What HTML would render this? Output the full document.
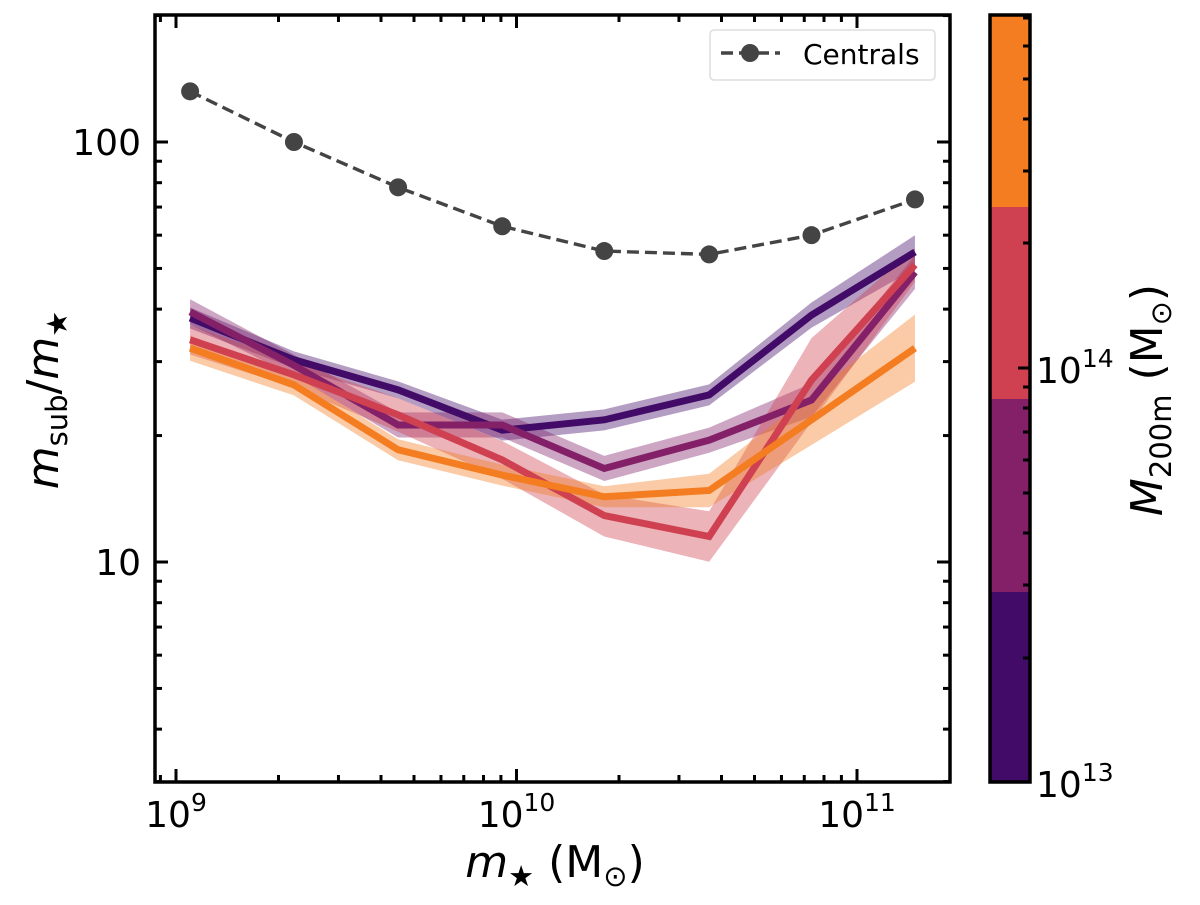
<!DOCTYPE html>
<html><head><meta charset="utf-8"><style>
body{margin:0;background:#fff}
svg{font-family:"DejaVu Sans","Liberation Sans",sans-serif}
</style></head><body>
<svg id="c" width="1200" height="900" xmlns="http://www.w3.org/2000/svg"></svg>
<script>
const xVals=[1.1e9,2.22e9,4.49e9,9.08e9,1.81e10,3.68e10,7.35e10,1.48e11];
const centrals=[132,100,78,63,55,54,60,73];
const s1=[38.1,30.3,25.7,20.6,21.8,25,38.7,54.7];
const s2=[39.4,29.4,21.2,21.2,16.7,19.5,24.3,49];
const s3=[33.8,27.9,22.4,17.5,12.9,11.5,27.1,51];
const s4=[32.3,26.4,18.5,16.1,14.3,14.8,21.8,32.3];
const e1=[0.025,0.02,0.02,0.025,0.025,0.025,0.03,0.04];
const e2=[0.03,0.025,0.03,0.03,0.03,0.03,0.04,0.04];
const e3=[0.035,0.03,0.04,0.045,0.05,0.06,0.1,0.04];
const e4=[0.03,0.025,0.025,0.025,0.025,0.04,0.06,0.08];
const seriesColors=["#430b68","#832068","#cf4150","#f37d20"];
const xTicks=[9,10,11];
const yTicks=[1,2];

const svg=document.getElementById('c');
const NS="http://www.w3.org/2000/svg";
function mk(t,a,p){const e=document.createElementNS(NS,t);for(const k in a)e.setAttribute(k,a[k]);(p||svg).appendChild(e);return e;}
const L=155,R=950,T=15,B=782;
const X=v=>176+(Math.log10(v)-9)*340.5;
const Y=v=>562-(Math.log10(v)-1)*420;

const all=[[s1,e1],[s2,e2],[s3,e3],[s4,e4]];
all.forEach(([s,e],i)=>{
  let up=s.map((v,j)=>X(xVals[j])+','+Y(v*Math.pow(10,e[j])));
  let lo=s.map((v,j)=>X(xVals[j])+','+Y(v/Math.pow(10,e[j]))).reverse();
  const b=mk('polygon',{points:up.concat(lo).join(' '),fill:seriesColors[i],'fill-opacity':0.4,stroke:'none'});
  
  
});
all.forEach(([s],i)=>{
  const l=mk('polyline',{points:s.map((v,j)=>X(xVals[j])+','+Y(v)).join(' '),fill:'none',stroke:seriesColors[i],'stroke-width':7,'stroke-linejoin':'miter'});
  
  
});
const cl=mk('polyline',{points:centrals.map((v,j)=>X(xVals[j])+','+Y(v)).join(' '),fill:'none',stroke:'#444','stroke-width':3.4,'stroke-dasharray':'12,6'});


centrals.forEach((v,j)=>{
  const c=mk('circle',{cx:X(xVals[j]),cy:Y(v),r:9,fill:'#444'});
  
  
});
const fr=mk('rect',{x:L,y:T,width:R-L,height:B-T,fill:'none',stroke:'#000','stroke-width':3.5});


for(let d=8;d<=11;d++)for(let m=1;m<10;m++){
  const v=m*Math.pow(10,d);const x=X(v);if(x<L||x>R)continue;
  const len=m==1?13:7;
  mk('line',{x1:x,x2:x,y1:B,y2:B-len,stroke:'#000','stroke-width':3});
  mk('line',{x1:x,x2:x,y1:T,y2:T+len,stroke:'#000','stroke-width':3});
}
xTicks.forEach(d=>{
  const t=mk('text',{x:X(Math.pow(10,d)),y:B+45,'font-size':36,'text-anchor':'middle'});
  t.innerHTML='10<tspan dy="-16" font-size="25">'+d+'</tspan>';
  
  
});
for(let d=0;d<=2;d++)for(let m=1;m<10;m++){
  const v=m*Math.pow(10,d);const y=Y(v);if(y<T||y>B)continue;
  const len=m==1?13:7;
  mk('line',{x1:L,x2:L+len,y1:y,y2:y,stroke:'#000','stroke-width':3});
  mk('line',{x1:R,x2:R-len,y1:y,y2:y,stroke:'#000','stroke-width':3});
}
yTicks.forEach(d=>{
  const t=mk('text',{x:L-14,y:Y(Math.pow(10,d))+13,'font-size':36,'text-anchor':'end'});
  t.textContent=String(Math.pow(10,d));
  
  
});
</script>
<svg width="1200" height="900" style="position:absolute;left:0;top:0" xmlns="http://www.w3.org/2000/svg">
<text x="555" y="877" font-size="44" text-anchor="middle"><tspan font-style="italic">m</tspan><tspan font-size="29" dy="9">★</tspan><tspan dy="-9"> (M</tspan><tspan font-size="29" dy="9">⊙</tspan><tspan dy="-9">)</tspan></text>
<text transform="translate(58,400) rotate(-90)" font-size="44" text-anchor="middle"><tspan font-style="italic">m</tspan><tspan font-size="29" dy="9">sub</tspan><tspan dy="-9">/</tspan><tspan font-style="italic">m</tspan><tspan font-size="29" dy="9">★</tspan></text>
<g>
<rect x="710" y="30" width="225" height="50" rx="4" fill="#fff" stroke="#ddd" stroke-width="1.5"/>
<line x1="721" y1="53" x2="780" y2="53" stroke="#444" stroke-width="3.4" stroke-dasharray="12,6"/>
<circle cx="750" cy="53" r="9" fill="#444"/>
<text x="803" y="64" font-size="28">Centrals</text>
</g>
<g>
<rect x="990" y="592" width="40" height="190" fill="#430b68"/>
<rect x="990" y="399" width="40" height="193" fill="#832068"/>
<rect x="990" y="207" width="40" height="192" fill="#cf4150"/>
<rect x="990" y="15" width="40" height="192" fill="#f37d20"/>
<rect x="990" y="15" width="40" height="767" fill="none" stroke="#000" stroke-width="3.5"/>
<g stroke="#000" stroke-width="3">
<line x1="1030" x2="1018" y1="368" y2="368"/>
<line x1="1030" x2="1023" y1="658" y2="658"/><line x1="1030" x2="1023" y1="585" y2="585"/><line x1="1030" x2="1023" y1="533" y2="533"/><line x1="1030" x2="1023" y1="493" y2="493"/><line x1="1030" x2="1023" y1="460" y2="460"/><line x1="1030" x2="1023" y1="432" y2="432"/><line x1="1030" x2="1023" y1="408" y2="408"/><line x1="1030" x2="1023" y1="387" y2="387"/>
<line x1="1030" x2="1023" y1="243" y2="243"/><line x1="1030" x2="1023" y1="171" y2="171"/><line x1="1030" x2="1023" y1="119" y2="119"/><line x1="1030" x2="1023" y1="79" y2="79"/><line x1="1030" x2="1023" y1="46" y2="46"/><line x1="1030" x2="1023" y1="18" y2="18"/>
</g>
<text x="1036" y="383" font-size="36">10<tspan dy="-16" font-size="25">14</tspan></text>
<text x="1036" y="797" font-size="36">10<tspan dy="-16" font-size="25">13</tspan></text>
<text transform="translate(1162,400) rotate(-90)" font-size="44" text-anchor="middle"><tspan font-style="italic">M</tspan><tspan font-size="29" dy="9">200m</tspan><tspan dy="-9"> (M</tspan><tspan font-size="29" dy="9">⊙</tspan><tspan dy="-9">)</tspan></text>
</g>
</svg>
</body></html>
